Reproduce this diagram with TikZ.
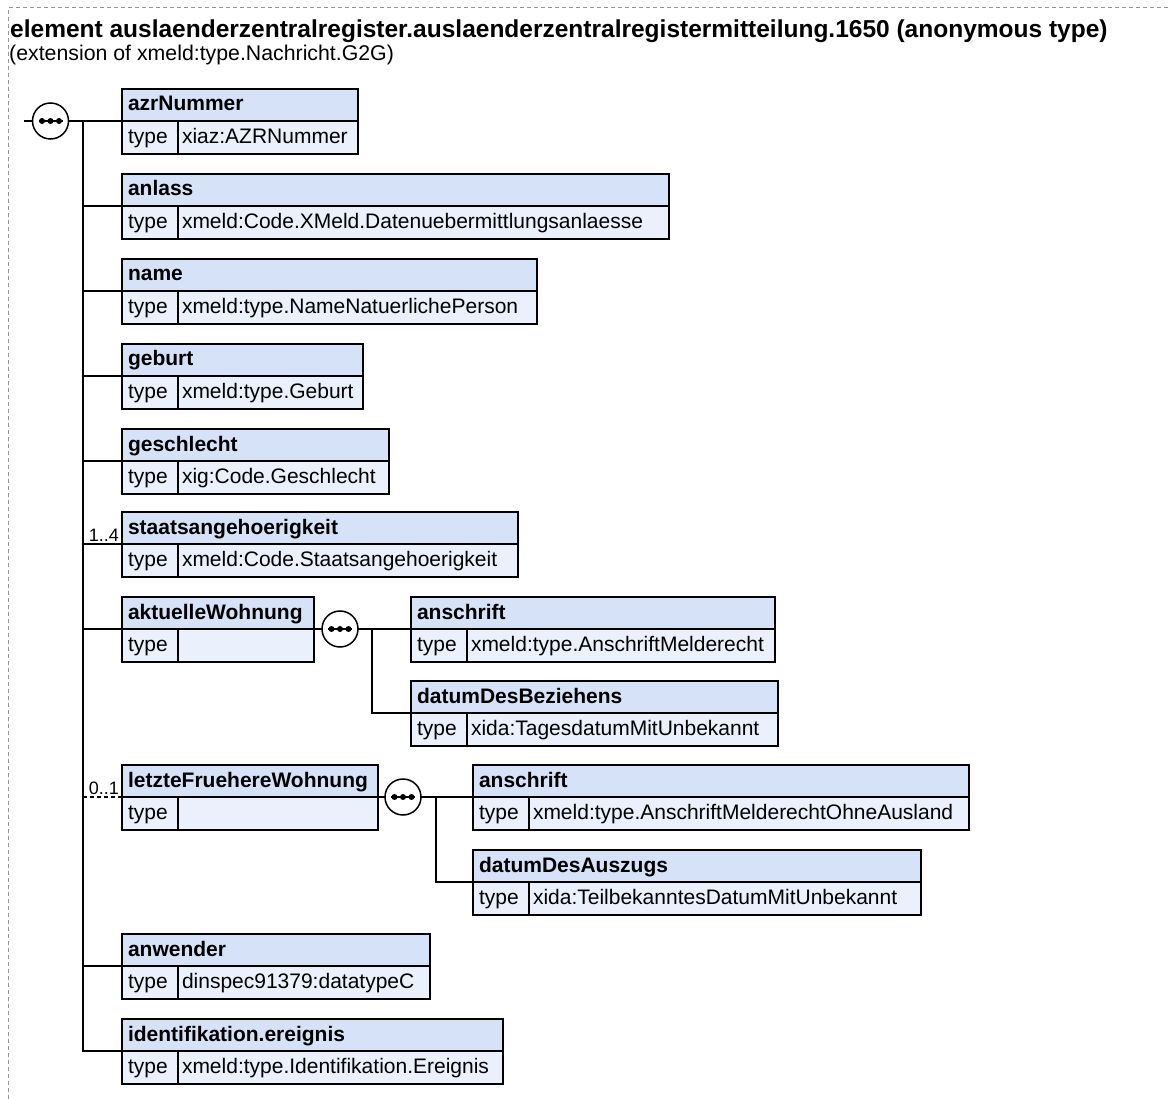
\documentclass[tikz,border=0pt]{standalone}
\usepackage{fontspec}
\setmainfont{Liberation Sans}
\definecolor{hdrblue}{RGB}{214,226,247}
\definecolor{rowblue}{RGB}{234,241,252}
\definecolor{frame}{RGB}{150,150,150}
\tikzset{
  cellbase/.style={draw, line width=1.5pt, inner ysep=0pt, outer sep=0pt, text height=16pt, text depth=4pt},
  hdr/.style={cellbase, fill=hdrblue, inner xsep=6pt, minimum height=32pt, font=\bfseries\fontsize{21}{24}\selectfont},
  tcell/.style={cellbase, fill=rowblue, inner xsep=6pt, minimum height=33pt, font=\fontsize{21}{24}\selectfont},
  vcell/.style={cellbase, fill=rowblue, inner xsep=4pt, minimum height=33pt, font=\fontsize{21}{24}\selectfont},
  conn/.style={line width=1.5pt},
  optconn/.style={line width=1.5pt, dash pattern=on 4pt off 3pt},
  seqc/.style={circle, draw, fill=white, line width=1.5pt, minimum size=36pt, inner sep=0pt, outer sep=0pt},
  mult/.style={inner sep=0pt, font=\fontsize{18}{20}\selectfont},
  frameline/.style={draw=frame, line width=1pt, dash pattern=on 4pt off 3pt}
}
\newcommand\xsdel[6]{%
  \pgfmathsetmacro\xsdw{#4-#2-12}%
  \pgfmathsetmacro\xsdv{#4-#2-56-8}%
  \node[hdr, anchor=north west] (#1) at (#2,#3) {\makebox[\xsdw pt][l]{#5}};
  \node[tcell, anchor=north west] (#1t) at (#1.south west) {\makebox[44pt][l]{type}};
  \node[vcell, anchor=north west] (#1v) at (#1t.north east) {\makebox[\xsdv pt][l]{#6}};
}
\newcommand\seqsym[3]{%
  \node[seqc] (#1) at (#2,#3) {};
  \draw[line width=1.4pt] ([xshift=-12pt]#1.center) -- ([xshift=12pt]#1.center);
  \foreach \d in {-8.5,0,8.5} \fill ([xshift=\d pt]#1.center) circle (3pt);
}
\begin{document}
\begin{tikzpicture}[x=1pt,y=-1pt]
\useasboundingbox (0,0) rectangle (1168,1099);
\draw[frameline] (1168,8) -- (8,8) -- (8,1099);
\node[anchor=base west, inner sep=0pt, font=\bfseries\fontsize{24.5}{28}\selectfont] (title) at (10,38)
  {element auslaenderzentralregister.auslaenderzentralregistermitteilung.1650 (anonymous type)};
\node[anchor=base west, inner sep=0pt, font=\fontsize{21.3}{24}\selectfont] (subtitle) at (9,61)
  {(extension of xmeld:type.Nachricht.G2G)};

\xsdel{azr}{122}{89}{358}{azrNummer}{xiaz:AZRNummer}
\xsdel{anlass}{122}{174}{669}{anlass}{xmeld:Code.XMeld.Datenuebermittlungsanlaesse}
\xsdel{nname}{122}{259}{537}{name}{xmeld:type.NameNatuerlichePerson}
\xsdel{geburt}{122}{344}{363}{geburt}{xmeld:type.Geburt}
\xsdel{geschl}{122}{429}{389}{geschlecht}{xig:Code.Geschlecht}
\xsdel{staat}{122}{512}{518}{staatsangehoerigkeit}{xmeld:Code.Staatsangehoerigkeit}
\xsdel{akt}{122}{597}{314}{aktuelleWohnung}{}
\xsdel{ansA}{411}{597}{775}{anschrift}{xmeld:type.AnschriftMelderecht}
\xsdel{datB}{411}{681}{778}{datumDesBeziehens}{xida:TagesdatumMitUnbekannt}
\xsdel{letzte}{122}{765}{378}{letzteFruehereWohnung}{}
\xsdel{ansL}{473}{765}{969}{anschrift}{xmeld:type.AnschriftMelderechtOhneAusland}
\xsdel{datA}{473}{850}{921}{datumDesAuszugs}{xida:TeilbekanntesDatumMitUnbekannt}
\xsdel{anw}{122}{934}{430}{anwender}{dinspec91379:datatypeC}
\xsdel{ident}{122}{1019}{503}{identifikation.ereignis}{xmeld:type.Identifikation.Ereignis}

% main sequence
\seqsym{seq}{50.5}{121}
\coordinate (stub) at (24,121);
\coordinate (trunk) at (83,121);
\draw[conn] (stub) -- (seq.west);
\draw[conn] (seq.east) -- (azr.south west);
\draw[conn] (trunk) |- (ident.south west);
\foreach \n in {anlass,nname,geburt,geschl,staat,akt,anw}
  \draw[conn] (trunk |- \n.south west) -- (\n.south west);
\draw[optconn] (trunk |- letzte.south west) -- (letzte.south west);
\node[mult, anchor=base east] (m14) at ([xshift=-3pt,yshift=3pt]staat.south west) {1..4};
\node[mult, anchor=base east] (m01) at ([xshift=-3pt,yshift=3pt]letzte.south west) {0..1};

% sequence of aktuelleWohnung
\seqsym{seqA}{340}{629}
\coordinate (trA) at (372,629);
\draw[conn] (akt.south east) -- (seqA.west);
\draw[conn] (seqA.east) -- (ansA.south west);
\draw[conn] (trA) |- (datB.south west);

% sequence of letzteFruehereWohnung
\seqsym{seqL}{403}{797}
\coordinate (trL) at (436,797);
\draw[conn] (letzte.south east) -- (seqL.west);
\draw[conn] (seqL.east) -- (ansL.south west);
\draw[conn] (trL) |- (datA.south west);
\end{tikzpicture}
\end{document}
